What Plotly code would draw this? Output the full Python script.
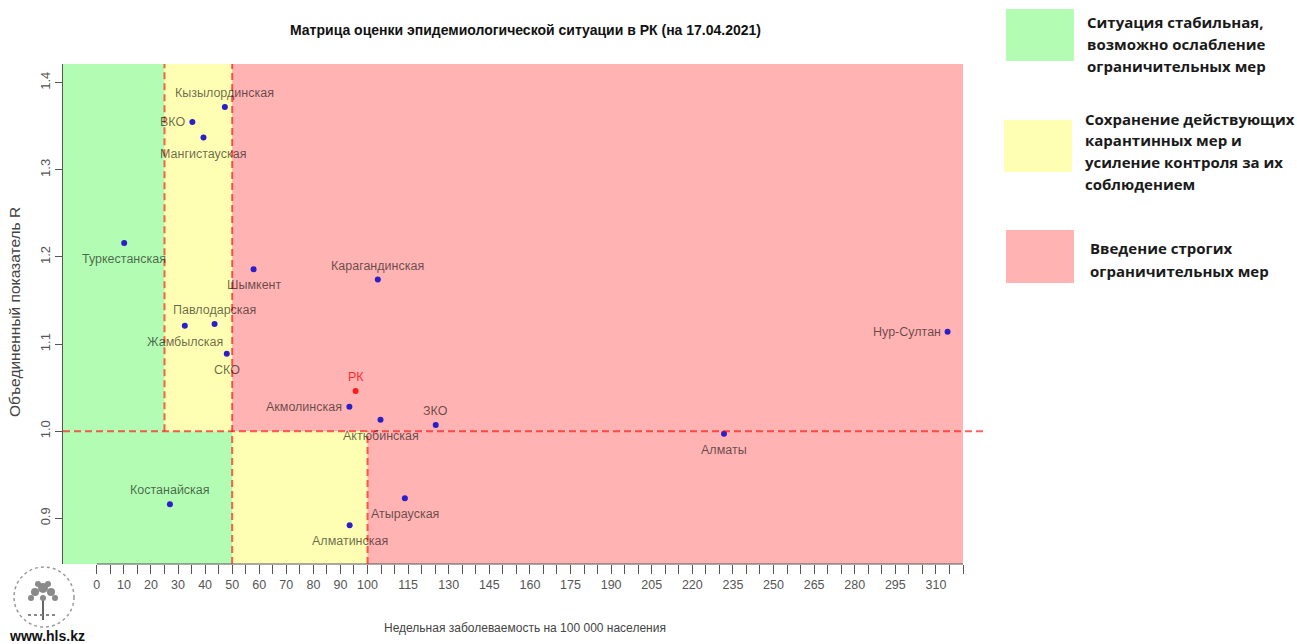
import plotly.graph_objects as go

# ---------------- data ----------------
regions = ["Кызылординская", "ВКО", "Мангистауская", "Туркестанская", "Шымкент",
           "Павлодарская", "Жамбылская", "СКО", "Карагандинская", "РК",
           "Акмолинская", "Актюбинская", "ЗКО", "Атырауская", "Алматинская",
           "Костанайская", "Алматы", "Нур-Султан"]
incidence = [47.3, 35.3, 39.4, 10.1, 57.9, 43.5, 32.5, 48.0, 103.8, 95.6,
             93.3, 104.8, 125.2, 113.8, 93.4, 27.0, 231.7, 314.3]
r_values = [1.372, 1.355, 1.337, 1.216, 1.186, 1.123, 1.121, 1.089, 1.174, 1.046,
            1.028, 1.013, 1.007, 0.923, 0.892, 0.916, 0.997, 1.114]
label_pos = ["top", "left", "bottom", "bottom", "bottom",
             "top", "bottom", "bottom", "top", "top",
             "left", "bottom", "top", "bottom", "bottom",
             "top", "bottom", "left"]

tick_values = list(range(0, 325, 5))
tick_labels = ["0", "10", "20", "30", "40", "50", "60", "70", "80", "90", "100",
               "115", "130", "145", "160", "175", "190", "205", "220", "235",
               "250", "265", "280", "295", "310"]
y_ticks = [0.9, 1.0, 1.1, 1.2, 1.3, 1.4]
y_tick_labels = ["0.9", "1.0", "1.1", "1.2", "1.3", "1.4"]

inc_low, inc_mid, inc_high = 25, 50, 100
r_threshold = 1.0

legend_items = [
    ["Ситуация стабильная,", "возможно ослабление", "ограничительных мер"],
    ["Сохранение действующих", "карантинных мер и", "усиление контроля за их", "соблюдением"],
    ["Введение строгих", "ограничительных мер"],
]

title_text = "Матрица оценки эпидемиологической ситуации в РК (на 17.04.2021)"
x_title = "Недельная заболеваемость на 100 000 населения"
y_title = "Объединенный показатель R"

# ---------------- style ----------------
W, H = 1297, 644
L, R, T, B = 63, 334, 64, 80
XR = [-12.5, 320]
YR = [0.8475, 1.4215]
GREEN, YELLOW, PINK = "#b3fcb3", "#ffffb3", "#ffb3b3"
DASH = "rgba(255,0,0,0.62)"
SANS = "Liberation Sans, Arial, sans-serif"
BOLDF = "Open Sans, Noto Sans, sans-serif"

def px_x(p):
    return (p - L) / (W - L - R)

def px_y(p):
    return (H - B - p) / (H - T - B)

ticktext = []
for v in tick_values:
    s = str(v)
    ticktext.append(s if s in tick_labels else "")

fig = go.Figure()

shapes = []
def rect(x0, x1, y0, y1, color):
    shapes.append(dict(type="rect", xref="x", yref="y", x0=x0, x1=x1, y0=y0, y1=y1,
                       fillcolor=color, line=dict(width=0), layer="below"))

rect(XR[0], inc_low, r_threshold, YR[1], GREEN)
rect(inc_low, inc_mid, r_threshold, YR[1], YELLOW)
rect(inc_mid, XR[1], r_threshold, YR[1], PINK)
rect(XR[0], inc_mid, YR[0], r_threshold, GREEN)
rect(inc_mid, inc_high, YR[0], r_threshold, YELLOW)
rect(inc_high, XR[1], YR[0], r_threshold, PINK)

dash = dict(color=DASH, width=2, dash="7px,4px")
shapes.append(dict(type="line", xref="x", yref="y", x0=inc_low, x1=inc_low, y0=r_threshold, y1=YR[1], line=dash))
shapes.append(dict(type="line", xref="x", yref="y", x0=inc_mid, x1=inc_mid, y0=YR[0], y1=YR[1], line=dash))
shapes.append(dict(type="line", xref="x", yref="y", x0=inc_high, x1=inc_high, y0=YR[0], y1=r_threshold, line=dash))
shapes.append(dict(type="line", xref="paper", yref="y", x0=0, x1=px_x(985), y0=r_threshold, y1=r_threshold, line=dash))
# x axis line from first to last tick
shapes.append(dict(type="line", xref="x", yref="paper", x0=tick_values[0], x1=tick_values[-1], y0=0, y1=0,
                   line=dict(color="#555555", width=1)))

# legend boxes
legend_boxes = [(1006, 1074, 9, 61, GREEN), (1004, 1072, 120, 172, YELLOW), (1006, 1074, 230, 283, PINK)]
for (x0, x1, y0, y1, c) in legend_boxes:
    shapes.append(dict(type="rect", xref="paper", yref="paper", x0=px_x(x0), x1=px_x(x1),
                       y0=px_y(y1), y1=px_y(y0), fillcolor=c, line=dict(width=0)))

# simple logo
shapes.append(dict(type="circle", xref="paper", yref="paper", x0=px_x(14), x1=px_x(74),
                   y0=px_y(627), y1=px_y(567), line=dict(color="#9a9a9a", width=1.5, dash="dot")))
shapes.append(dict(type="line", xref="paper", yref="paper", x0=px_x(43), x1=px_x(43),
                   y0=px_y(620), y1=px_y(598), line=dict(color="#666666", width=2)))
for (cx, cy, r) in [(43, 588, 5), (35, 592, 4), (51, 592, 4), (38, 584, 3), (48, 584, 3), (43, 598, 3), (31, 598, 3), (55, 598, 3)]:
    shapes.append(dict(type="circle", xref="paper", yref="paper", x0=px_x(cx - r), x1=px_x(cx + r),
                       y0=px_y(cy + r), y1=px_y(cy - r), fillcolor="#8a8a8a", line=dict(width=0)))
shapes.append(dict(type="line", xref="paper", yref="paper", x0=px_x(28), x1=px_x(58),
                   y0=px_y(615), y1=px_y(615), line=dict(color="#888888", width=2, dash="dot")))

marker_colors = ["#ff1a1a" if r == "РК" else "#2a1fc8" for r in regions]
text_colors = ["rgba(255,0,0,0.8)" if r == "РК" else "rgba(0,0,0,0.6)" for r in regions]

fig.add_trace(go.Scatter(
    x=incidence, y=r_values, mode="markers", text=regions,
    marker=dict(size=6, color=marker_colors),
    hoverinfo="text", showlegend=False, cliponaxis=False,
))

annotations = []
for name, xv, yv, pos, col in zip(regions, incidence, r_values, label_pos, text_colors):
    a = dict(text=name, x=xv, y=yv, xref="x", yref="y", showarrow=False,
             font=dict(family=SANS, size=12.5, color=col))
    if pos == "top":
        a.update(xanchor="center", yanchor="bottom", yshift=5)
    elif pos == "bottom":
        a.update(xanchor="center", yanchor="top", yshift=-7)
    else:
        a.update(xanchor="right", yanchor="middle", xshift=-5)
    annotations.append(a)

annotations += [
    dict(text="<b>" + title_text + "</b>", xref="paper", yref="paper", x=px_x(525), y=px_y(30),
         showarrow=False, font=dict(family=SANS, size=14, color="#111111"), xanchor="center", yanchor="middle"),
    dict(text=x_title, xref="paper", yref="paper", x=px_x(525), y=px_y(628),
         showarrow=False, font=dict(family=SANS, size=12, color="#444444"), xanchor="center", yanchor="middle"),
    dict(text=y_title, xref="paper", yref="paper", x=px_x(14), y=px_y(312), textangle=-90,
         showarrow=False, font=dict(family=SANS, size=15.5, color="#444444"),
         xanchor="center", yanchor="middle"),
    dict(text="<b>www.hls.kz</b>", xref="paper", yref="paper", x=px_x(47), y=px_y(636),
         showarrow=False, font=dict(family=SANS, size=14, color="#111111"),
         xanchor="center", yanchor="middle"),
]

legend_text_pos = [(1085, [22, 44, 66]), (1083, [119, 140, 162, 184]), (1088, [248, 271])]
for (x0, ys), lines in zip(legend_text_pos, legend_items):
    for yy, line in zip(ys, lines):
        annotations.append(dict(text="<b>" + line + "</b>", xref="paper", yref="paper",
                                x=px_x(x0), y=px_y(yy), showarrow=False, xanchor="left", yanchor="middle",
                                font=dict(family=BOLDF, size=15, color="#1a1a1a")))

fig.update_layout(
    width=W, height=H,
    margin=dict(l=L, r=R, t=T, b=B, pad=0),
    paper_bgcolor="white", plot_bgcolor="white",
    shapes=shapes, annotations=annotations,
    xaxis=dict(range=XR, tickvals=tick_values, ticktext=ticktext, ticks="outside", ticklen=9,
               tickcolor="#555555", tickwidth=1, showgrid=False, zeroline=False, showline=False,
               tickfont=dict(family=SANS, size=12.5, color="#555555"), fixedrange=True),
    yaxis=dict(range=YR, tickvals=y_ticks, ticktext=y_tick_labels, ticks="outside", ticklen=7,
               tickcolor="#555555", tickwidth=1, showgrid=False, zeroline=False, showline=True,
               linecolor="#555555", linewidth=1, tickangle=-90,
               tickfont=dict(family=SANS, size=13, color="#555555"), fixedrange=True),
)

fig.write_html("out.html", config={"displayModeBar": False},
               post_script="document.body.style.margin='0px';")
